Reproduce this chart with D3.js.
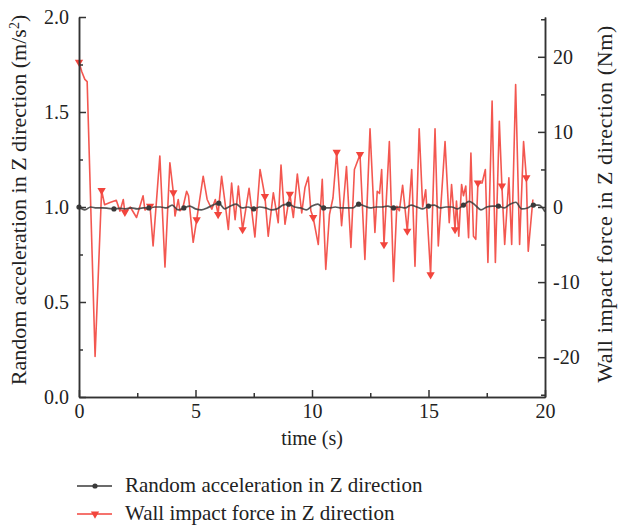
<!DOCTYPE html>
<html>
<head>
<meta charset="utf-8">
<script src="https://cdn.jsdelivr.net/npm/d3@7"></script>
<style>
  body { margin: 0; background: #fff; }
  svg text { font-family: "Liberation Serif", "DejaVu Serif", serif; fill: #222; }
</style>
</head>
<body>
<div id="chart"></div>
<script>
// Random acceleration in Z direction (m/s^2), sampled every 0.25 s
const accelStep = 0.25
const accelValues = [
  1.00, 0.985, 1.0, 0.995, 0.995, 0.993, 0.99, 0.993, 0.99, 0.995,
  0.99, 0.995, 0.995, 1.0, 1.0, 0.995, 1.01, 0.985, 0.995, 1.005,
  0.99, 0.985, 0.995, 1.01, 1.02, 0.99, 1.005, 1.015, 0.995, 1.0,
  0.99, 1.0, 0.995, 0.985, 0.99, 1.01, 1.015, 1.0, 0.995, 0.985,
  1.005, 1.015, 0.995, 0.995, 1.0, 0.995, 0.995, 0.995, 1.015, 1.005,
  0.995, 1.0, 1.0, 1.005, 0.995, 1.0, 0.995, 1.01, 1.0, 0.99,
  1.005, 1.01, 0.995, 1.0, 1.0, 0.99, 1.01, 1.03, 1.01, 0.985,
  1.0, 1.005, 1.005, 0.995, 1.015, 1.025, 0.99, 0.995, 1.01, 1.01,
  0.975
]

// Wall impact force in Z direction (Nm): [time, value]
const forceData = [
  [0, 19.3], [0.12, 18], [0.25, 17], [0.35, 16.7], [0.69, -19.9], [0.97, 2.2],
  [1.1, 0.3], [1.33, 0.6], [1.6, 0.9], [1.76, -0.55], [1.9, 1.0], [1.97, -0.7],
  [2.2, 0], [2.47, -1.4], [2.75, 1.5], [2.83, -0.4], [3.05, 0.1], [3.18, -5.2],
  [3.47, 6.8], [3.69, -8], [3.9, 5.9], [4.05, 1.9], [4.12, -1.2], [4.26, 1.0],
  [4.33, -0.5], [4.45, -0.2], [4.62, 2.1], [4.7, 1.5], [4.9, -4.7], [5.05, -1.7],
  [5.33, 4.1], [5.5, 1.0], [5.7, -0.3], [5.85, 1.0], [5.97, -1], [6.12, 4.1],
  [6.25, 1.0], [6.41, -3], [6.55, 3.2], [6.7, -1.7], [6.84, 2.8], [7.02, -3],
  [7.3, 2.5], [7.55, -4], [7.77, 5], [7.98, 1.4], [8.12, -3.9], [8.34, 1.9],
  [8.55, -2.1], [8.67, 5.6], [8.84, -2.3], [9.05, 1.7], [9.2, -1.4], [9.37, 4.4],
  [9.56, -0.8], [9.7, 2.6], [9.84, 4.0], [9.95, -0.5], [10.05, -1.4], [10.27, -5],
  [10.44, 3.7], [10.59, -8.3], [10.75, -1], [10.9, 1.2], [11.06, 7.3], [11.27, -2.5],
  [11.48, 5.4], [11.67, -5.4], [11.82, 5], [12.06, 7], [12.27, -7], [12.49, 10.4],
  [12.7, -3.4], [12.8, 2.1], [12.9, 1.8], [12.99, 5], [13.09, -5], [13.32, 8.7],
  [13.5, -9.9], [13.64, 0.1], [13.75, -0.5], [13.89, 2.9], [14.09, -3.2], [14.28, 5],
  [14.42, -7.9], [14.6, 10.4], [14.75, 0], [14.88, 2.3], [15.09, -9], [15.28, 10.4],
  [15.42, -5.2], [15.71, 8.7], [15.89, -2.1], [15.99, 3], [16.14, -3], [16.2, 0.8],
  [16.3, -3.9], [16.42, 3], [16.5, 1.5], [16.6, 2.8], [16.72, -4.1], [16.82, 7.2],
  [16.93, -3.9], [17.03, -4.3], [17.12, 3.2], [17.3, 3.2], [17.44, 5], [17.55, -7.4],
  [17.73, 14.1], [17.87, -7.4], [18.04, 11.4], [18.15, 2.8], [18.27, -5], [18.45, 3.9],
  [18.57, -5], [18.74, 16.3], [18.91, -5], [19.08, 8.7], [19.2, 3.9], [19.28, -5.9],
  [19.48, 1.0]
]
// times of the force samples that carry a marker
const forceMarkTimes = [0, 0.97, 1.97, 3.05, 4.05, 5.05, 5.97, 7.02, 7.98, 9.05,
  10.05, 11.06, 12.06, 13.09, 14.09, 15.09, 16.14, 17.12, 18.15, 19.2]

const xTicks = [0, 5, 10, 15, 20]
const leftTicks = [0.0, 0.5, 1.0, 1.5, 2.0]
const rightTicks = [-20, -10, 0, 10, 20]
const legendLabels = ['Random acceleration in Z direction', 'Wall impact force in Z direction']

const W = 619, H = 528
const plotL = 79, plotR = 545, plotT = 17, plotB = 397
const black = '#3a3a3a', red = '#f2453d'

const svg = d3.select('#chart').append('svg')
  .attr('width', W)
  .attr('height', H)

const x = d3.scaleLinear().domain([0, 20]).range([plotL, plotR])
const yL = d3.scaleLinear().domain([0, 2]).range([plotB, plotT])
const yR = d3.scaleLinear().domain([-25.3, 25.3]).range([plotB, plotT])

const accel = accelValues.map((v, i) => [i * accelStep, v])

// Series
const plot = svg.append('g')

plot.append('path')
  .datum(forceData)
  .attr('fill', 'none')
  .attr('stroke', red)
  .attr('stroke-width', 1.6)
  .attr('stroke-opacity', 0.9)
  .attr('stroke-linejoin', 'round')
  .attr('d', d3.line().x(d => x(d[0])).y(d => yR(d[1])))

plot.append('path')
  .datum(accel)
  .attr('fill', 'none')
  .attr('stroke', black)
  .attr('stroke-width', 1.7)
  .attr('stroke-opacity', 0.85)
  .attr('d', d3.line().curve(d3.curveMonotoneX).x(d => x(d[0])).y(d => yL(d[1])))

// markers
const redMarks = forceData.filter(d => forceMarkTimes.includes(d[0]))
const tri = d3.symbol().type(d3.symbolTriangle).size(30)

plot.selectAll('.rm')
  .data(redMarks)
  .enter().append('path')
  .attr('transform', d => `translate(${x(d[0])},${yR(d[1])}) rotate(180)`)
  .attr('d', tri)
  .attr('fill', red)

plot.selectAll('.bm')
  .data(accel.filter((d, i) => i % 6 === 0))
  .enter().append('circle')
  .attr('cx', d => x(d[0]))
  .attr('cy', d => yL(d[1]))
  .attr('r', 2.6)
  .attr('fill', black)

// Axes (ticks inward)
const axisColor = '#333'
function styleAxis(g) {
  g.selectAll('path, line').attr('stroke', axisColor).attr('stroke-width', 1.5)
  g.selectAll('text').style('font-size', '20px').attr('fill', '#222')
}

svg.append('g')
  .attr('transform', `translate(0,${plotB})`)
  .call(d3.axisBottom(x).tickValues([2.5, 7.5, 12.5, 17.5]).tickSizeInner(-4).tickSizeOuter(0).tickFormat(''))
  .call(styleAxis)
svg.append('g')
  .attr('transform', `translate(0,${plotB})`)
  .call(d3.axisBottom(x).tickValues(xTicks).tickSizeInner(-7).tickSizeOuter(0).tickPadding(7).tickFormat(d3.format('d')))
  .call(styleAxis)

svg.append('g')
  .attr('transform', `translate(${plotL},0)`)
  .call(d3.axisLeft(yL).tickValues([0.25, 0.75, 1.25, 1.75]).tickSizeInner(-4).tickSizeOuter(0).tickFormat(''))
  .call(styleAxis)
svg.append('g')
  .attr('transform', `translate(${plotL},0)`)
  .call(d3.axisLeft(yL).tickValues(leftTicks).tickSizeInner(-7).tickSizeOuter(0).tickPadding(10).tickFormat(d3.format('.1f')))
  .call(styleAxis)

svg.append('g')
  .attr('transform', `translate(${plotR},0)`)
  .call(d3.axisRight(yR).tickValues([-25, -15, -5, 5, 15, 25]).tickSizeInner(-4).tickSizeOuter(0).tickFormat(''))
  .call(styleAxis)
svg.append('g')
  .attr('transform', `translate(${plotR},0)`)
  .call(d3.axisRight(yR).tickValues(rightTicks).tickSizeInner(-7).tickSizeOuter(0).tickPadding(8).tickFormat(d => d < 0 ? '-' + Math.abs(d) : d))
  .call(styleAxis)

// Axis titles
svg.append('text')
  .attr('x', (plotL + plotR) / 2)
  .attr('y', 445)
  .attr('text-anchor', 'middle')
  .style('font-size', '20px')
  .text('time (s)')

const yTitle = svg.append('text')
  .attr('transform', `translate(26,200) rotate(-90)`)
  .attr('text-anchor', 'middle')
  .style('font-size', '22px')
yTitle.append('tspan').text('Random acceleration in Z direction (m/s')
yTitle.append('tspan').attr('baseline-shift', 'super').style('font-size', '14px').text('2')
yTitle.append('tspan').text(')')

svg.append('text')
  .attr('transform', `translate(612,204) rotate(-90)`)
  .attr('text-anchor', 'middle')
  .style('font-size', '22px')
  .style('letter-spacing', '0.6px')
  .text('Wall impact force in Z direction (Nm)')

// Legend
const legend = svg.append('g')
const legendColors = [black, red]
legendLabels.forEach((label, i) => {
  const ly = 486 + i * 28
  legend.append('line')
    .attr('x1', 77).attr('x2', 112)
    .attr('y1', ly).attr('y2', ly)
    .attr('stroke', legendColors[i]).attr('stroke-width', 1.6)
  if (i === 0) {
    legend.append('circle').attr('cx', 95).attr('cy', ly).attr('r', 2.6).attr('fill', black)
  } else {
    legend.append('path')
      .attr('transform', `translate(95,${ly}) rotate(180)`)
      .attr('d', tri)
      .attr('fill', red)
  }
  legend.append('text')
    .attr('x', 125)
    .attr('y', ly + 6)
    .style('font-size', '21px')
    .text(label)
})
</script>
</body>
</html>
